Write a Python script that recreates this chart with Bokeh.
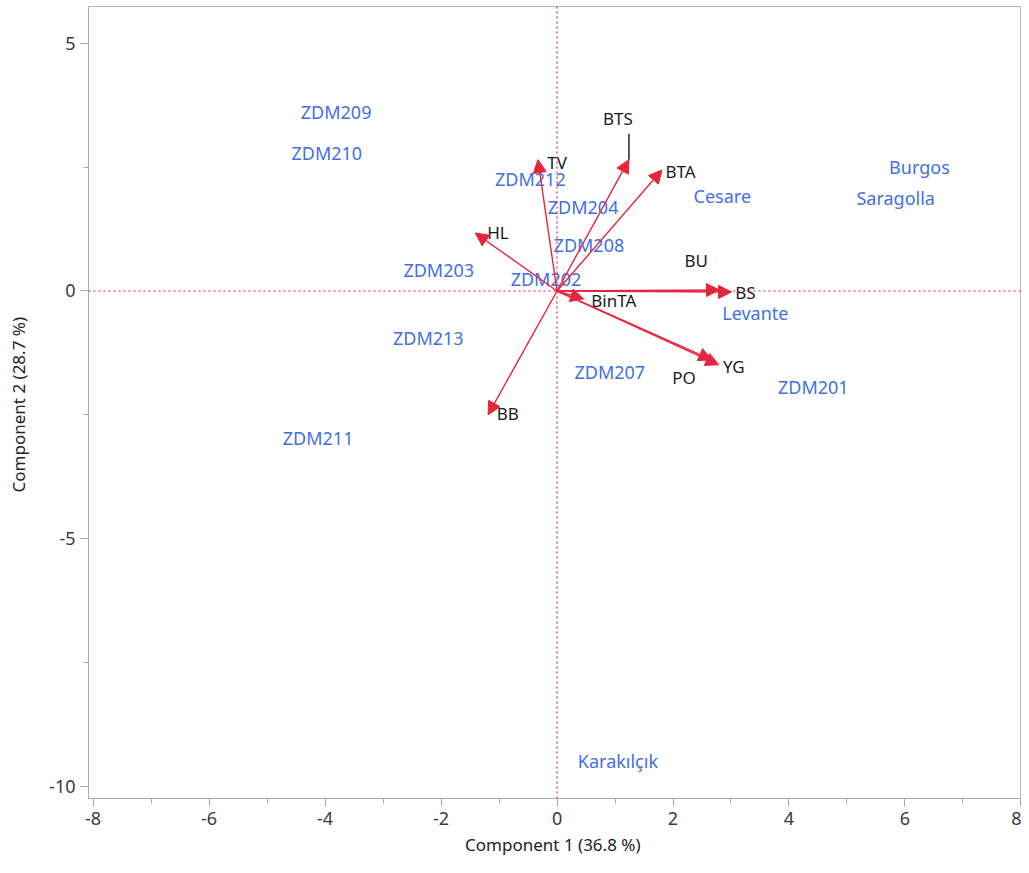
from bokeh.plotting import figure
from bokeh.models import (ColumnDataSource, Arrow, NormalHead, Span, FixedTicker,
                          Range1d)
from bokeh.core.properties import value
from bokeh.embed import file_html
from bokeh.resources import INLINE

# ---- data ----
genotypes = ["ZDM209", "ZDM210", "ZDM212", "ZDM204", "ZDM208", "ZDM203", "ZDM202",
             "ZDM213", "ZDM207", "ZDM211", "ZDM201", "Cesare", "Burgos", "Saragolla",
             "Levante", "Karakılçık"]
score1 = [-3.81, -3.97, -0.46, 0.45, 0.55, -2.04, -0.19, -2.22, 0.91, -4.12, 4.42,
          2.85, 6.25, 5.84, 3.42, 1.05]
score2 = [3.62, 2.79, 2.26, 1.70, 0.93, 0.42, 0.24, -0.95, -1.64, -2.97, -1.94,
          1.92, 2.51, 1.88, -0.44, -9.49]

variables = ["TV", "BTS", "BTA", "HL", "BU", "BS", "BinTA", "YG", "PO", "BB"]
load1 = [-0.33, 1.24, 1.81, -1.41, 2.80, 3.01, 0.46, 2.79, 2.67, -1.19]
load2 = [2.65, 2.65, 2.44, 1.17, 0.02, -0.02, -0.16, -1.49, -1.39, -2.50]
# variable label positions (data units)
lab1 = [0.00, 1.05, 2.13, -1.02, 2.40, 3.25, 0.98, 3.05, 2.19, -0.85]
lab2 = [2.59, 3.49, 2.41, 1.19, 0.61, -0.04, -0.20, -1.53, -1.74, -2.48]

x_ticks = [-8, -6, -4, -2, 0, 2, 4, 6, 8]
y_ticks = [-10, -5, 0, 5]

x_title = "Component 1  (36.8 %)"
y_title = "Component 2  (28.7 %)"

RED = "#e3263d"
BLUE = "#4270e4"
FONT = "Noto Sans"

p = figure(width=1021, height=865, output_backend="svg", toolbar_location=None,
           x_range=Range1d(-8.08, 8.01), y_range=Range1d(-10.24, 5.74),
           min_border_left=88, min_border_right=0, min_border_top=6,
           min_border_bottom=67)
p.grid.visible = False
p.outline_line_color = "#b4b4b4"
p.background_fill_color = "white"
p.border_fill_color = "white"

# reference lines
for dim in ("width", "height"):
    p.add_layout(Span(location=0, dimension=dim, line_color=RED,
                      line_dash="2 3", line_width=1.2))

# arrows
asrc = ColumnDataSource(dict(x0=[0] * len(load1), y0=[0] * len(load1), x1=load1, y1=load2))
p.add_layout(Arrow(end=NormalHead(size=13, fill_color=RED, line_color=RED, line_width=1),
                   x_start="x0", y_start="y0", x_end="x1", y_end="y1",
                   line_color=RED, line_width=1.4, source=asrc))

# leader line for BTS
i = variables.index("BTS")
p.segment(x0=[load1[i]], y0=[load2[i]], x1=[load1[i]], y1=[lab2[i] - 0.32],
          line_color="#222222", line_width=1.5)

# variable labels
p.text(x=lab1, y=lab2, text=variables, text_align="center", text_baseline="middle",
       text_color="#1a1a1a", text_font=value(FONT), text_font_size="17px")

# genotype labels
p.text(x=score1, y=score2, text=genotypes, text_align="center", text_baseline="middle",
       text_color=BLUE, text_font=value(FONT), text_font_size="18px")

# axes
p.xaxis.ticker = FixedTicker(ticks=x_ticks, minor_ticks=list(range(-7, 8, 2)))
p.yaxis.ticker = FixedTicker(ticks=y_ticks, minor_ticks=[-7.5, -2.5, 2.5])
p.xaxis.major_label_overrides = {t: str(t) for t in x_ticks}
p.yaxis.major_label_overrides = {t: str(t) for t in y_ticks}
for ax in (p.xaxis, p.yaxis):
    ax.axis_line_color = "#a8a8a8"
    ax.major_tick_line_color = "#a8a8a8"
    ax.minor_tick_line_color = "#a8a8a8"
    ax.major_tick_out = 8
    ax.major_tick_in = 0
    ax.minor_tick_out = 5
    ax.minor_tick_in = 0
    ax.major_label_text_font = FONT
    ax.major_label_text_font_size = "18px"
    ax.major_label_text_color = "#3a3a3a"
    ax.axis_label_text_font = FONT
    ax.axis_label_text_font_size = "17px"
    ax.axis_label_text_font_style = "normal"
    ax.axis_label_text_color = "#222222"
p.xaxis.axis_label = x_title
p.yaxis.axis_label = y_title
p.xaxis.axis_label_standoff = 5
p.yaxis.axis_label_standoff = 16

open("out.html", "w").write(file_html(p, INLINE))
